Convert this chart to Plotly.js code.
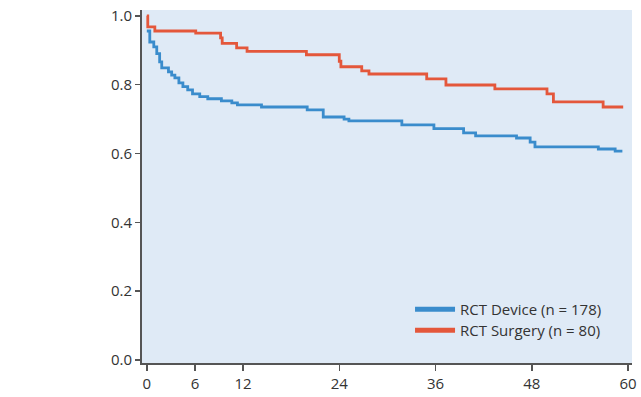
<!DOCTYPE html>
<html>
<head>
<meta charset="utf-8">
<script src="https://cdn.plot.ly/plotly-3.0.1.min.js"></script>
<style>html,body{margin:0;padding:0;background:#fff;}#chart{width:641px;height:397px;}</style>
</head>
<body>
<div id="chart"></div>
<script>
// Kaplan-Meier step points (months, survival)
const deviceMonths = [0, 0.37, 0.87, 1.24, 1.6, 1.86, 2.7, 3.1, 3.5, 4.0, 4.5, 5.1, 5.7, 6.6, 7.6, 9.3, 10.6, 11.3, 14.3, 20.0, 22.0, 24.6, 25.2, 31.8, 35.8, 39.5, 41.0, 46.1, 47.8, 48.4, 56.3, 58.4, 59.3];
const deviceSurv   = [0.956, 0.924, 0.91, 0.89, 0.866, 0.849, 0.837, 0.828, 0.82, 0.805, 0.794, 0.785, 0.773, 0.765, 0.759, 0.753, 0.747, 0.741, 0.735, 0.727, 0.706, 0.70, 0.695, 0.683, 0.672, 0.66, 0.651, 0.645, 0.633, 0.619, 0.613, 0.607, 0.607];

const surgeryMonths = [0, 0.12, 1.0, 6.1, 9.2, 9.4, 11.2, 12.5, 19.9, 24.0, 24.2, 26.8, 27.7, 34.9, 37.3, 43.4, 49.9, 50.7, 56.9, 59.4];
const surgerySurv   = [1.0, 0.968, 0.956, 0.95, 0.936, 0.92, 0.907, 0.897, 0.887, 0.868, 0.852, 0.84, 0.831, 0.817, 0.799, 0.788, 0.773, 0.75, 0.735, 0.735];

const seriesNames = ['RCT Device (n = 178)', 'RCT Surgery (n = 80)'];
const xTicks = [0, 6, 12, 24, 36, 48, 60];
const yTicks = [0.0, 0.2, 0.4, 0.6, 0.8, 1.0];
const yTickText = ['0.0', '0.2', '0.4', '0.6', '0.8', '1.0'];

const blue = '#3a8ccc';
const red = '#e4573b';

const traces = [
  {x: deviceMonths, y: deviceSurv, type: 'scatter', mode: 'lines', line: {shape: 'hv', color: blue, width: 2.8}, showlegend: false, hoverinfo: 'skip'},
  {x: surgeryMonths, y: surgerySurv, type: 'scatter', mode: 'lines', line: {shape: 'hv', color: red, width: 2.8}, showlegend: false, hoverinfo: 'skip'},
  {x: [null], y: [null], type: 'scatter', mode: 'lines', name: seriesNames[0], line: {color: blue, width: 5}, legend: 'legend'},
  {x: [null], y: [null], type: 'scatter', mode: 'lines', name: seriesNames[1], line: {color: red, width: 5}, legend: 'legend2'}
];

const legendBase = {xanchor: 'left', yanchor: 'middle', bgcolor: 'rgba(0,0,0,0)', font: {size: 15, color: '#333'}, itemwidth: 40};

const layout = {
  width: 641, height: 397,
  margin: {l: 142, r: 9, t: 10, b: 34, pad: 0},
  paper_bgcolor: '#ffffff',
  plot_bgcolor: '#dfeaf6',
  font: {family: '"Open Sans", "DejaVu Sans", sans-serif', size: 15, color: '#333'},
  showlegend: true,
  legend: Object.assign({x: 0.547, y: 0.1516}, legendBase),
  legend2: Object.assign({x: 0.547, y: 0.0921}, legendBase),
  xaxis: {
    range: [-0.6, 60.5], tickvals: xTicks, ticktext: xTicks.map(String),
    showgrid: false, zeroline: false, showline: true, linecolor: '#555', linewidth: 2,
    ticks: 'outside', ticklen: 6, tickcolor: '#555', tickwidth: 1.5, fixedrange: true
  },
  yaxis: {
    range: [-0.009, 1.017], tickvals: yTicks, ticktext: yTickText,
    showgrid: false, zeroline: false, showline: true, linecolor: '#555', linewidth: 2,
    ticks: 'outside', ticklen: 5, tickcolor: '#555', tickwidth: 1.5, fixedrange: true
  }
};

Plotly.newPlot('chart', traces, layout, {staticPlot: true, displayModeBar: false});
</script>
</body>
</html>
